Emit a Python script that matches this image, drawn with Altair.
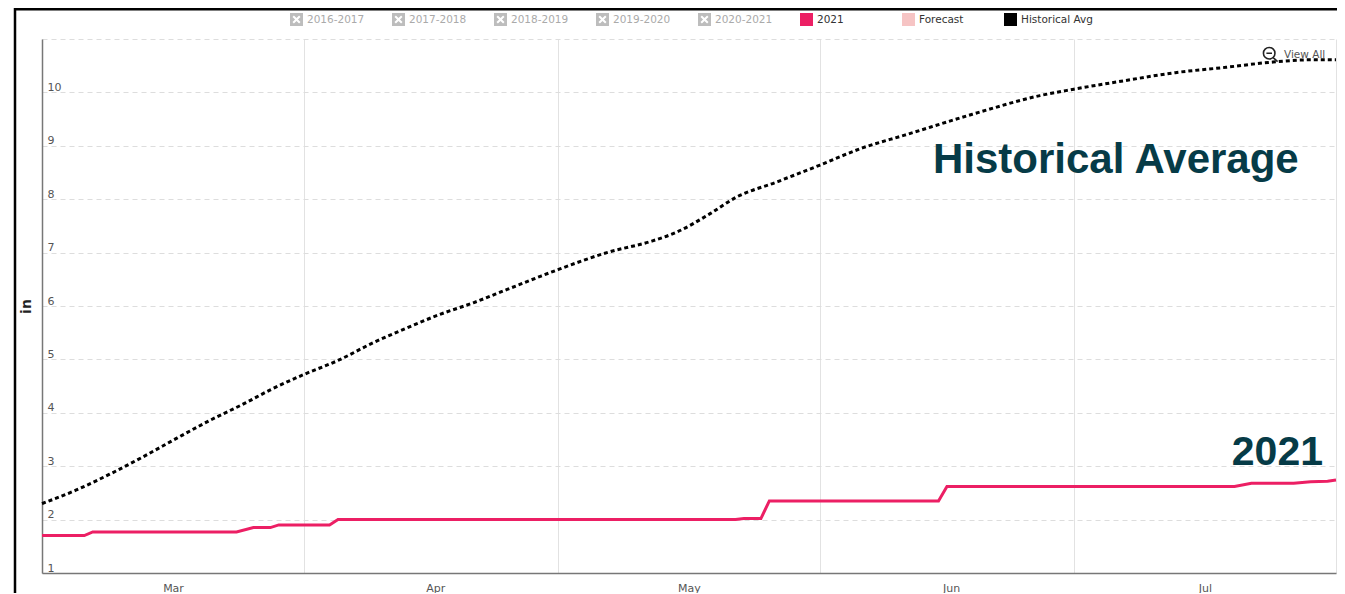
import altair as alt
import pandas as pd

# ---------------- data ----------------
hist_dates = ["2021-03-01", "2021-03-05", "2021-03-09", "2021-03-13", "2021-03-17", "2021-03-21",
              "2021-03-25", "2021-03-28", "2021-04-01", "2021-04-05", "2021-04-09", "2021-04-13",
              "2021-04-17", "2021-04-21", "2021-04-25", "2021-04-29", "2021-05-01", "2021-05-07",
              "2021-05-12", "2021-05-15", "2021-05-19", "2021-05-22", "2021-05-27", "2021-06-01",
              "2021-06-06", "2021-06-11", "2021-06-19", "2021-06-27", "2021-07-01", "2021-07-07",
              "2021-07-13", "2021-07-19", "2021-07-24", "2021-07-29", "2021-08-01"]
hist_values = [2.30, 2.55, 2.85, 3.18, 3.53, 3.87,
               4.18, 4.43, 4.72, 4.98, 5.30, 5.58,
               5.84, 6.06, 6.31, 6.56, 6.68, 7.01,
               7.21, 7.38, 7.73, 8.03, 8.33, 8.64,
               8.96, 9.20, 9.59, 9.94, 10.06, 10.22,
               10.37, 10.47, 10.56, 10.61, 10.61]

y2021_dates = ["2021-03-01", "2021-03-06", "2021-03-07", "2021-03-24", "2021-03-26", "2021-03-28",
               "2021-03-29", "2021-04-04", "2021-04-05", "2021-05-22", "2021-05-23", "2021-05-25",
               "2021-05-26", "2021-06-15", "2021-06-16", "2021-07-20", "2021-07-22", "2021-07-27",
               "2021-07-29", "2021-07-31", "2021-08-01"]
y2021_values = [1.70, 1.70, 1.77, 1.77, 1.85, 1.85,
                1.90, 1.90, 2.00, 2.00, 2.02, 2.02,
                2.35, 2.35, 2.62, 2.62, 2.68, 2.68,
                2.71, 2.72, 2.74]

legend_series = ["2016-2017", "2017-2018", "2018-2019", "2019-2020", "2020-2021",
                 "2021", "Forecast", "Historical Avg"]
legend_colors = ["#bdbdbd", "#bdbdbd", "#bdbdbd", "#bdbdbd", "#bdbdbd",
                 "#ec1f64", "#f6c4c4", "#000000"]

month_ticks = ["2021-03-01", "2021-04-01", "2021-05-01", "2021-06-01", "2021-07-01", "2021-08-01"]
y_ticks = [1, 2, 3, 4, 5, 6, 7, 8, 9, 10, 11]

annot_hist = ["Historical Average"]
annot_2021 = ["2021"]
view_all = ["View All"]

# ---------------- symbols ----------------
# grey box with a white X cut out (hidden series)
xbox = ("M-1,-1H1V1H-1Z "
        "M0,-0.22L-0.4,-0.62L-0.62,-0.4L-0.22,0L-0.62,0.4L-0.4,0.62L0,0.22"
        "L0.4,0.62L0.62,0.4L0.22,0L0.62,-0.4L0.4,-0.62Z")
legend_shapes = [xbox, xbox, xbox, xbox, xbox, "square", "square", "square"]
# zoom-out magnifier icon
lens = ("M0.62,-0.1A0.72,0.72 0 1,1 -0.82,-0.1A0.72,0.72 0 1,1 0.62,-0.1Z "
        "M-0.45,-0.1L0.25,-0.1 M0.4,0.45L0.95,0.95")

# ---------------- frames ----------------
hist_df = pd.DataFrame({"date": hist_dates, "value": hist_values})
y21_df = pd.DataFrame({"date": y2021_dates, "value": y2021_values})
legend_df = pd.DataFrame({"series": legend_series,
                          "date": [None] * len(legend_series),
                          "value": [None] * len(legend_series)})


def dt(s):
    y, m, d = [int(p) for p in s.split("-")]
    return alt.DateTime(year=y, month=m, date=d, utc=True)


xscale = alt.Scale(type="utc", domain=[dt("2021-03-01"), dt("2021-08-01")])
yscale = alt.Scale(domain=[1, 11], nice=False, zero=False)

xaxis = alt.Axis(
    title=None,
    values=[dt(s) for s in month_ticks],
    labelExpr="utcFormat(datum.value, '%b') == 'Aug' ? '' : utcFormat(datum.value, '%b')",
    labelOffset=131, labelFlush=False, labelOverlap=False, labelBound=False,
    labelPadding=9, labelFontSize=11, labelColor="#555555", labelFont="DejaVu Sans",
    ticks=False, domainColor="#777777", domainWidth=1.5,
    grid=True, gridColor="#e2e2e2", gridWidth=1,
)
yaxis = alt.Axis(
    title="in", titleFontSize=14, titleFontWeight="bold", titleColor="#222222",
    titleFont="DejaVu Sans", titleX=-16, titleY=267, titleAngle=-90,
    titleAlign="center", titleBaseline="middle",
    values=y_ticks,
    labelExpr="datum.value == 11 ? '' : datum.label",
    labelAlign="left", labelBaseline="bottom", labelPadding=-5, labelOffset=0,
    labelFontSize=11, labelColor="#555555", labelFont="DejaVu Sans",
    labelFlush=False, labelOverlap=False, labelBound=False,
    ticks=False, domainColor="#777777", domainWidth=1.5,
    grid=True, gridColor="#dddddd", gridDash=[5, 4], gridWidth=1,
)

x_enc = alt.X("date:T", scale=xscale, axis=xaxis)
y_enc = alt.Y("value:Q", scale=yscale, axis=yaxis)

legend = alt.Legend(
    orient="none", legendX=248, legendY=-26, direction="horizontal", columns=8,
    title=None, symbolSize=169, symbolStrokeWidth=0, labelOffset=4,
    labelFontSize=10.5, labelFont="DejaVu Sans",
    labelColor=alt.ExprRef("indexof(['2021','Forecast','Historical Avg'], datum.label) >= 0 ? '#333333' : '#aaaaaa'"),
    gridAlign="all", columnPadding=13, padding=0,
)

line2021 = alt.Chart(y21_df).mark_line(
    color="#ec1f64", strokeWidth=3, interpolate="linear"
).encode(x=x_enc, y=y_enc)

line_hist = alt.Chart(hist_df).mark_line(
    color="#000000", strokeWidth=3, strokeDash=[4, 3], interpolate="monotone"
).encode(x=x_enc, y=y_enc)

legend_layer = alt.Chart(legend_df).mark_point(filled=True, opacity=1).encode(
    x=x_enc, y=y_enc,
    color=alt.Color("series:N", scale=alt.Scale(domain=legend_series, range=legend_colors), legend=legend),
    shape=alt.Shape("series:N", scale=alt.Scale(domain=legend_series, range=legend_shapes), legend=legend),
)

txt_hist = alt.Chart(pd.DataFrame({"t": annot_hist})).mark_text(
    font="Liberation Sans", fontWeight="bold", fontSize=42, color="#063b47",
    align="left", baseline="alphabetic"
).encode(text="t:N", x=alt.value(891), y=alt.value(134))

txt_2021 = alt.Chart(pd.DataFrame({"t": annot_2021})).mark_text(
    font="Liberation Sans", fontWeight="bold", fontSize=41, color="#063b47",
    align="right", baseline="alphabetic"
).encode(text="t:N", x=alt.value(1281), y=alt.value(426))

txt_view = alt.Chart(pd.DataFrame({"t": view_all})).mark_text(
    font="DejaVu Sans", fontSize=10.5, color="#555555", align="left", baseline="middle"
).encode(text="t:N", x=alt.value(1242), y=alt.value(16))

icon_view = alt.Chart(pd.DataFrame({"t": view_all})).mark_point(
    shape=lens, size=256, filled=False, stroke="#222222", strokeWidth=1.6, opacity=1
).encode(x=alt.value(1228), y=alt.value(15))

frame_left = alt.Chart(pd.DataFrame({"a": [0]})).mark_rule(color="#000000", strokeWidth=2.5).encode(
    x=alt.value(-27), y=alt.value(-31), y2=alt.value(570))
frame_top = alt.Chart(pd.DataFrame({"a": [0]})).mark_rule(color="#000000", strokeWidth=3).encode(
    x=alt.value(-28), x2=alt.value(1310), y=alt.value(-30))

chart = alt.layer(
    line2021, line_hist, legend_layer, txt_hist, txt_2021, txt_view, icon_view, frame_left, frame_top
).properties(
    width=1294, height=534,
    autosize=alt.AutoSizeParams(type="none"),
    padding={"left": 34, "top": 31, "right": 1, "bottom": 20},
    background="#ffffff",
).configure_view(stroke=None)

chart.save("out.html", embed_options={"renderer": "svg", "actions": False})
